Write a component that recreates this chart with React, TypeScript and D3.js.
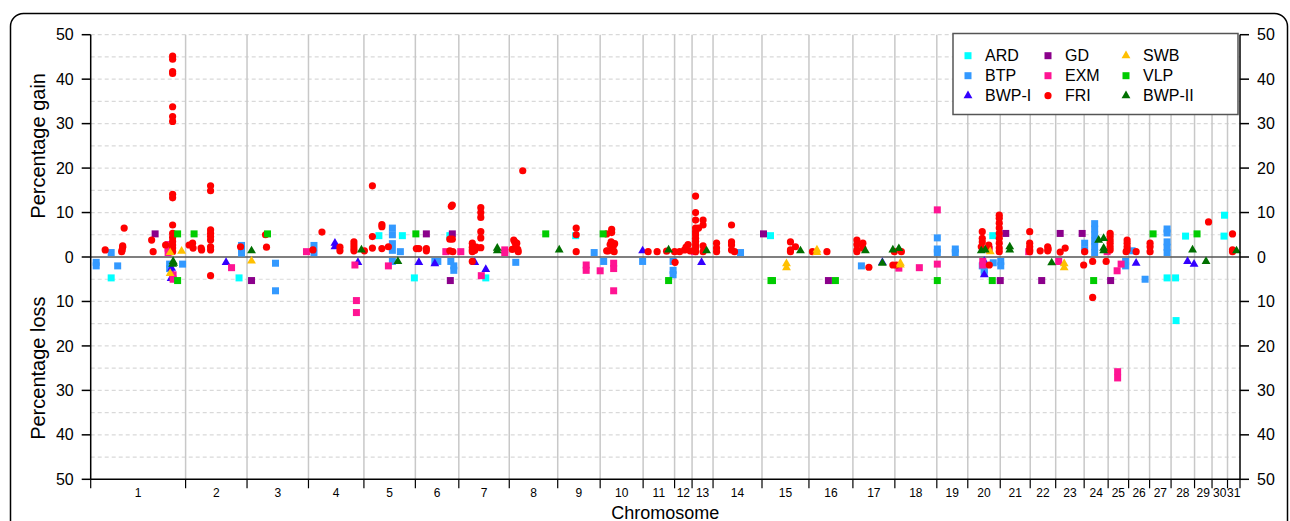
import React from "react";
import * as d3 from "d3";

type Pt = [number, number, number]; // [chromosome, position (Mb), percentage (+gain / -loss)]

const chromosomes = Array.from({ length: 31 }, (_, i) => String(i + 1));
const chromLengths = [190, 123, 123, 111, 103, 87, 101, 97, 85, 86, 63, 35, 42, 98, 94, 88, 84, 84, 62, 65, 60, 51, 57, 48, 41, 42, 43, 47, 35, 31, 25];
const yTicks = [-50, -40, -30, -20, -10, 0, 10, 20, 30, 40, 50];
const gridValues = [-45, -40, -35, -30, -25, -20, -15, -10, -5, 5, 10, 15, 20, 25, 30, 35, 40, 45, 50];

const ARD: Pt[] = [
  [1, 41, -4.7], [2, 107, -4.7], [5, 30, 4.8], [5, 77, 4.8], [5, 101, -4.7], [6, 69, 4.8], [7, 54, -4.7],
  [9, 36, 4.8], [15, 17, 4.8], [20, 50, 4.8], [27, 35, -4.7], [28, 9, -4.7], [28, 10, -14.3], [28, 29, 4.7],
  [30, 25, 9.4], [30, 24, 4.7],
];
const BTP: Pt[] = [
  [1, 11, -1.2], [1, 11, -2.0], [1, 41, 1.0], [1, 54, -2.0], [1, 158, -1.6], [1, 158, -2.6], [1, 184, -1.6],
  [2, 112, 0.9], [2, 112, 1.8], [2, 112, 2.6], [3, 57, -1.4], [3, 57, -7.6], [4, 11, 1.0], [4, 11, 2.6],
  [5, 57, 5.0], [5, 57, 6.5], [5, 57, 1.5], [5, 57, 3.0], [5, 57, -1.0], [5, 73, 1.2],
  [6, 39, -1.0], [6, 45, -1.0], [6, 71, -1.0], [6, 77, -2.0], [6, 77, -3.0], [8, 13, -1.2], [9, 73, 1.0],
  [10, 7, -1.0], [10, 85, -1.0], [11, 60, -1.0], [11, 60, -3.0], [11, 60, -4.0], [14, 55, 1.0], [17, 17, -2.0],
  [19, 1, 4.3], [19, 1, 1.0], [19, 1, 1.8], [19, 37, 1.0], [19, 37, 1.8], [20, 29, -2.0], [20, 33, -2.9],
  [20, 33, -3.5], [20, 51, -1.3], [21, 1, -1.0], [21, 1, -2.0], [24, 1, 3.1], [24, 1, 1.6],
  [24, 21, 1.0], [24, 21, 2.3], [24, 21, 3.6], [24, 21, 5.0], [24, 21, 6.3], [24, 21, 7.5],
  [25, 35, -1.0], [25, 35, -2.0], [26, 7, 1.4], [26, 33, -5.0],
  [27, 35, 1.0], [27, 35, 2.2], [27, 35, 3.4], [27, 35, 5.4], [27, 35, 6.3],
];
const BWP1: Pt[] = [
  [1, 162, -2.5], [1, 162, -3.5], [1, 161, -4.8], [2, 81, -1.2], [4, 53, 3.1], [4, 53, 2.3], [4, 99, -1.2],
  [6, 7, -1.2], [6, 39, -1.5], [7, 32, -1.2], [7, 54, -2.8], [10, 85, 1.4], [13, 19, -1.2], [17, 59, -1.2],
  [20, 33, -1.0], [20, 33, -4.0], [26, 15, -1.4], [28, 33, -1.0], [28, 46, -1.6],
];
const GD: Pt[] = [
  [1, 129, 5.2], [3, 9, -5.3], [6, 22, 5.2], [6, 74, 5.2], [6, 70, -5.3], [15, 3, 5.2], [16, 39, -5.3],
  [20, 65, -5.3], [21, 11, 5.3], [22, 23, -5.3], [23, 9, 5.3], [23, 53, 5.3], [25, 5, -5.3],
];
const EXM: Pt[] = [
  [1, 155, 1.0], [1, 155, 2.0], [1, 155, 2.8], [1, 165, -4.0], [1, 165, -5.0], [2, 92, -2.4], [3, 119, 1.2],
  [4, 93, -1.8], [4, 96, -9.8], [4, 96, -12.5], [5, 49, -2.0], [6, 61, 1.2], [7, 4, 1.2], [7, 45, -4.2],
  [7, 92, 1.6], [7, 92, 1.0], [9, 57, -1.8], [9, 57, -3.0], [9, 85, -3.1], [10, 27, -1.4], [10, 27, -2.6],
  [10, 27, -7.6], [13, 5, 1.2], [18, 8, -2.5], [18, 49, -2.4], [19, 1, 10.6], [19, 1, -1.6], [20, 43, 1.7],
  [20, 30, -1.0], [20, 30, -1.8], [21, 57, 1.2], [23, 6, -1.0], [24, 46, 1.2], [25, 18, -3.1], [25, 26, -1.6],
  [25, 19, -25.8], [25, 19, -27.2],
];
const FRI: Pt[] = [
  [1, 29, 1.6], [1, 62, 1.2], [1, 63, 1.6], [1, 64, 2.2], [1, 64, 2.5], [1, 67, 6.5], [1, 122, 3.8], [1, 125, 1.2],
  [1, 150, 2.7], [1, 164, 45.2], [1, 164, 44.5], [1, 164, 41.7], [1, 164, 41.3], [1, 164, 33.8], [1, 164, 31.6],
  [1, 164, 30.5], [1, 164, 14.1], [1, 164, 13.3], [1, 164, 7.2], [1, 164, 5.3], [1, 164, 4.4], [1, 164, 3.5],
  [1, 164, 2.7], [1, 164, 2.0], [1, 164, 1.2],
  [2, 7, 2.7], [2, 14, 3.1], [2, 15, 2.0], [2, 31, 2.0], [2, 32, 1.6], [2, 50, 16.0], [2, 50, 14.9], [2, 50, 6.1],
  [2, 50, 5.3], [2, 50, 4.6], [2, 50, 3.8], [2, 50, 2.3], [2, 50, 1.6], [2, 50, -4.2], [2, 110, 2.3],
  [3, 37, 5.0], [3, 39, 2.2], [4, 9, 1.6], [4, 27, 5.6], [4, 63, 2.2], [4, 63, 1.4], [4, 91, 3.4], [4, 91, 2.7],
  [4, 91, 2.0], [4, 91, 1.4], [5, 1, 1.4], [5, 17, 4.6], [5, 17, 2.0], [5, 17, 16.0], [5, 36, 6.8], [5, 36, 7.3],
  [5, 36, 1.9], [5, 49, 2.3], [6, 2, 1.9], [6, 7, 1.9], [6, 22, 1.9], [6, 22, 1.4], [6, 69, 4.0], [6, 74, 4.0],
  [6, 74, 11.7], [6, 72, 11.4], [6, 69, 1.4], [6, 75, 1.2],
  [7, 27, 3.1], [7, 27, 2.2], [7, 27, 1.6], [7, 27, 1.2], [7, 32, 1.5], [7, 35, 2.2], [7, 44, 11.1], [7, 44, 10.0],
  [7, 44, 8.9], [7, 44, 5.7], [7, 44, 4.3], [7, 44, 2.1], [7, 27, -1.0],
  [8, 6, 1.7], [8, 9, 3.8], [8, 11, 3.4], [8, 13, 2.5], [8, 15, 3.1], [8, 17, 1.7], [8, 18, 1.2], [8, 27, 19.4],
  [9, 37, 6.5], [9, 37, 5.0], [9, 37, 1.2], [10, 13, 5.2], [10, 23, 6.2], [10, 23, 5.5], [10, 13, 1.4],
  [10, 16, 1.4], [10, 20, 2.8], [10, 22, 3.4], [10, 24, 1.6], [10, 26, 2.3], [10, 28, 1.2], [10, 29, 3.0],
  [11, 10, 1.2], [11, 28, 1.2], [11, 47, 1.3], [12, 1, -1.2], [12, 0, 1.2], [12, 10, 1.2], [12, 20, 1.6],
  [12, 23, 2.2], [12, 27, 2.8], [12, 31, 1.4],
  [13, 7, 13.7], [13, 7, 10.0], [13, 7, 8.3], [13, 7, 6.5], [13, 7, 5.7], [13, 7, 5.0], [13, 7, 4.2], [13, 7, 3.5],
  [13, 7, 2.7], [13, 7, 2.0], [13, 7, 1.2], [13, 13, 6.5], [13, 22, 8.3], [13, 22, 7.2], [13, 22, 2.5], [13, 22, 1.2],
  [14, 7, 3.1], [14, 7, 2.0], [14, 7, 1.2], [14, 37, 7.2], [14, 37, 3.4], [14, 37, 2.7], [14, 37, 1.6], [14, 43, 1.2],
  [15, 57, 3.4], [15, 57, 1.6], [15, 57, 1.2], [15, 67, 2.3], [16, 7, 1.2], [16, 36, 1.2],
  [17, 8, 3.8], [17, 8, 2.8], [17, 8, 1.6], [17, 8, 1.2], [17, 20, 3.1], [17, 20, 2.0], [17, 32, -2.3],
  [17, 83, 1.2], [17, 80, -1.8], [18, 13, 1.2], [18, 3, -1.8],
  [20, 29, 5.7], [20, 29, 4.2], [20, 29, 3.4], [20, 27, 2.3], [20, 42, 2.7], [20, 42, 2.0], [20, 43, -1.8],
  [20, 63, 9.4], [20, 63, 8.7], [20, 63, 7.6], [20, 63, 6.5], [20, 63, 5.3], [20, 63, 4.2], [20, 63, 3.1],
  [20, 63, 2.0], [20, 63, 1.2],
  [21, 59, 5.7], [21, 59, 3.1], [21, 59, 2.3], [21, 59, 1.6], [21, 59, 1.2], [22, 20, 1.4], [22, 35, 2.3],
  [22, 35, 1.4], [22, 36, 1.8], [23, 9, 1.1], [23, 19, 2.0], [23, 56, -1.8], [24, 1, 1.2], [24, 17, -1.0],
  [24, 17, -9.1], [24, 44, -1.0],
  [25, 4, 5.3], [25, 4, 4.6], [25, 4, 3.8], [25, 4, 3.1], [25, 4, 2.3], [25, 4, 1.6], [25, 38, 3.8], [25, 38, 3.1],
  [25, 38, 2.3], [25, 38, 1.6], [25, 36, 1.2], [26, 15, 1.2], [27, 1, 3.1], [27, 1, 2.3], [27, 1, 1.2],
  [29, 28, 7.9], [31, 10, 5.2], [31, 10, 1.6], [31, 10, 1.2],
];
const SWB: Pt[] = [
  [1, 159, 1.0], [1, 159, -3.7], [1, 182, 1.3], [3, 9, -0.9], [15, 49, -1.5], [15, 49, -2.4], [16, 16, 1.6],
  [16, 16, 1.0], [18, 11, -1.4], [18, 11, -1.8], [20, 45, 1.2], [23, 17, -1.5], [23, 17, -2.4],
];
const VLP: Pt[] = [
  [1, 174, 5.2], [1, 174, -5.3], [2, 17, 5.2], [3, 41, 5.2], [6, 1, 5.2], [8, 73, 5.2], [10, 6, 5.2],
  [11, 51, -5.3], [15, 18, -5.3], [15, 21, -5.3], [16, 53, -5.3], [19, 1, -5.3], [20, 49, -5.3],
  [24, 19, -5.3], [27, 7, 5.2], [29, 5, 5.2],
];
const BWP2: Pt[] = [
  [1, 165, -1.0], [1, 166, -1.4], [1, 164, -1.6], [3, 9, 1.4], [4, 106, 1.6], [5, 68, -1.0], [7, 77, 2.0],
  [7, 77, 1.4], [9, 3, 1.6], [11, 51, 1.6], [13, 29, 1.4], [15, 77, 1.4], [17, 25, 1.4], [17, 59, -1.4],
  [17, 80, 1.6], [18, 8, 1.9], [20, 27, 1.4], [20, 35, 1.6], [21, 19, 2.3], [21, 19, 1.6], [22, 43, -1.3],
  [24, 29, 3.8], [24, 39, 4.2], [24, 39, 2.0], [24, 39, 1.4], [28, 43, 1.6], [29, 23, -1.0], [31, 18, 1.4],
];

type Shape = "square" | "circle" | "triangle";
const seriesList: { name: string; color: string; shape: Shape; data: Pt[] }[] = [
  { name: "ARD", color: "#00FFFF", shape: "square", data: ARD },
  { name: "BTP", color: "#3399FF", shape: "square", data: BTP },
  { name: "BWP-I", color: "#3300FF", shape: "triangle", data: BWP1 },
  { name: "GD", color: "#8B008B", shape: "square", data: GD },
  { name: "EXM", color: "#FF1493", shape: "square", data: EXM },
  { name: "FRI", color: "#FF0000", shape: "circle", data: FRI },
  { name: "SWB", color: "#FFC000", shape: "triangle", data: SWB },
  { name: "VLP", color: "#00CC00", shape: "square", data: VLP },
  { name: "BWP-II", color: "#007000", shape: "triangle", data: BWP2 },
];

const W = 1290;
const H = 521;
const left = 90.7;
const right = 1240;
const top = 34.7;
const bottom = 479.3;
const FONT = "'Liberation Sans', Arial, Helvetica, sans-serif";

const starts = chromLengths.reduce<number[]>((acc, l, i) => { acc.push(i === 0 ? 0 : acc[i - 1] + chromLengths[i - 1]); return acc; }, []);
const total = d3.sum(chromLengths);
const x = d3.scaleLinear().domain([0, total]).range([left, right]);
const y = d3.scaleLinear().domain([-50, 50]).range([bottom, top]);
const triPath = d3.symbol().type(d3.symbolTriangle).size(34)() as string;

function Marker({ shape, color, cx, cy }: { shape: Shape; color: string; cx: number; cy: number }) {
  if (shape === "square") return <rect x={cx - 3.5} y={cy - 3.5} width={7} height={7} fill={color} />;
  if (shape === "circle") return <circle cx={cx} cy={cy} r={3.6} fill={color} />;
  return <path d={triPath} transform={`translate(${cx},${cy})`} fill={color} />;
}

export default function App() {
  const boundaries = [...starts, total];
  const legendCols = [968, 1048, 1126];
  const legendRows = [55.7, 75.7, 95.7];
  return (
    <div style={{ position: "absolute", left: 0, top: 0 }}>
      <svg width={W} height={H} style={{ display: "block", fontFamily: FONT }}>
        <rect x={0} y={0} width={W} height={H} fill="#fff" />
        <rect x={10.5} y={13.5} width={1277} height={560} rx={13} ry={13} fill="none" stroke="#000" strokeWidth={1.5} />
        {/* horizontal dashed grid */}
        {gridValues.map((v) => (
          <line key={"g" + v} x1={left} x2={right} y1={y(v)} y2={y(v)} stroke="#d9d9d9" strokeWidth={1.2} strokeDasharray="4,3" />
        ))}
        {/* chromosome boundaries */}
        {starts.slice(1).map((s, i) => (
          <line key={"b" + i} x1={x(s)} x2={x(s)} y1={top} y2={bottom} stroke="#c8c8c8" strokeWidth={1.5} />
        ))}
        {/* zero line */}
        <line x1={left} x2={right} y1={y(0)} y2={y(0)} stroke="#555" strokeWidth={1.6} />
        {/* points */}
        {seriesList.map((s) => (
          <g key={s.name}>
            {s.data.map((p, i) => (
              <Marker key={i} shape={s.shape} color={s.color} cx={x(starts[p[0] - 1] + p[1])} cy={y(p[2])} />
            ))}
          </g>
        ))}
        {/* left axis */}
        <line x1={left} x2={left} y1={top} y2={bottom} stroke="#000" strokeWidth={1.5} />
        {yTicks.map((v) => (
          <g key={"l" + v}>
            <line x1={left - 9} x2={left} y1={y(v)} y2={y(v)} stroke="#000" strokeWidth={1.5} />
            <text x={left - 17} y={y(v)} dy="0.35em" textAnchor="end" fontSize={16} fill="#000">{Math.abs(v)}</text>
          </g>
        ))}
        {/* right axis */}
        <line x1={right} x2={right} y1={top} y2={bottom} stroke="#000" strokeWidth={1.5} />
        {yTicks.map((v) => (
          <g key={"r" + v}>
            <line x1={right} x2={right + 9} y1={y(v)} y2={y(v)} stroke="#000" strokeWidth={1.5} />
            <text x={right + 17} y={y(v)} dy="0.35em" textAnchor="start" fontSize={16} fill="#000">{Math.abs(v)}</text>
          </g>
        ))}
        {/* bottom axis */}
        <line x1={left} x2={right} y1={bottom} y2={bottom} stroke="#000" strokeWidth={1.5} />
        {boundaries.map((b, i) => (
          <line key={"t" + i} x1={x(b)} x2={x(b)} y1={bottom} y2={bottom + 9} stroke="#000" strokeWidth={1.2} />
        ))}
        {chromosomes.map((c, i) => (
          <text key={"c" + c} x={x(starts[i] + chromLengths[i] / 2)} y={493} dy="0.35em" textAnchor="middle" fontSize={12} fill="#000">{c}</text>
        ))}
        <text x={(left + right) / 2} y={518.5} textAnchor="middle" fontSize={18} fill="#000">Chromosome</text>
        <text transform={`translate(38,${y(25)}) rotate(-90)`} dy="0.35em" textAnchor="middle" fontSize={20} fill="#000">Percentage gain</text>
        <text transform={`translate(38,${y(-25)}) rotate(-90)`} dy="0.35em" textAnchor="middle" fontSize={20} fill="#000">Percentage loss</text>
        {/* legend */}
        <rect x={953} y={33.5} width={285} height={81} fill="#fff" stroke="#555" strokeWidth={1.5} />
        {seriesList.map((s, i) => {
          const col = Math.floor(i / 3);
          const row = i % 3;
          return (
            <g key={"lg" + s.name}>
              <Marker shape={s.shape} color={s.color} cx={legendCols[col]} cy={legendRows[row]} />
              <text x={legendCols[col] + 17} y={legendRows[row]} dy="0.35em" fontSize={16} fill="#000">{s.name}</text>
            </g>
          );
        })}
      </svg>
    </div>
  );
}
